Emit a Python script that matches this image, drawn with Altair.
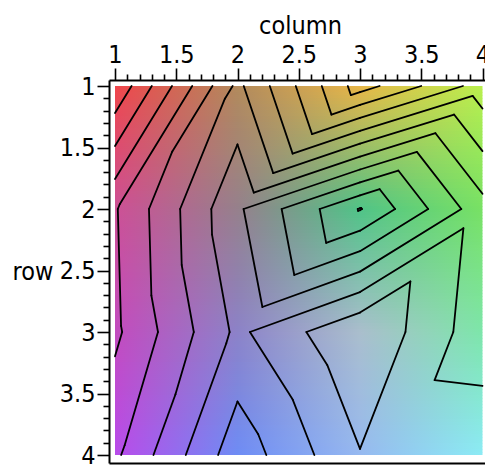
import altair as alt

# ---- data: matrix (row = y, column = x) ----
columns = [1, 2, 3, 4]
rows = [1, 2, 3, 4]
row1 = [6.82, 0.76, 5.47, 2.53]
row2 = [3.09, -0.84, -4.06, -0.36]
row3 = [3.20, -0.22, 1.95, -0.61]
row4 = [2.19, -1.60, 0.95, 0.78]
levels = [-4, -3, -2, -1, 0, 1, 2, 3, 4, 5, 6]
major_ticks = [1, 1.5, 2, 2.5, 3, 3.5, 4]
minor_step = 0.1

Z = [row1, row2, row3, row4]

# ---- style: shading colours at the grid nodes (rows top->bottom) ----
SHADE = [
    [(240, 70, 75), (178, 138, 92), (232, 182, 72), (185, 240, 78)],
    [(205, 80, 150), (150, 128, 140), (80, 195, 135), (120, 225, 100)],
    [(195, 75, 190), (140, 130, 200), (170, 190, 205), (125, 230, 170)],
    [(185, 75, 235), (110, 140, 245), (150, 185, 240), (140, 235, 245)],
]

FONT = "DejaVu Sans Condensed, Liberation Sans Narrow, Liberation Sans, sans-serif"

PX_X = 122.5
PX_Y = 123.0
LEFT, TOP = 109, 80
W = 485 - LEFT
H = 383
X0 = columns[0] - 6 / PX_X
X1 = X0 + W / PX_X
Y0 = rows[0] - 6 / PX_Y
Y1 = Y0 + H / PX_Y


def hexc(c):
    return "#%02x%02x%02x" % tuple(int(round(v)) for v in c)


def lerp(a, b, t):
    return tuple(a[k] + (b[k] - a[k]) * t for k in range(3))


# ---- background: horizontal strips with linear gradients ----
N = 123
ymin, ymax = rows[0], rows[-1]
bg = []
for i in range(N):
    ya = ymin + (ymax - ymin) * i / N
    yb = ymin + (ymax - ymin) * (i + 1) / N
    yc = (ya + yb) / 2
    r = min(int(yc - ymin), len(rows) - 2)
    t = yc - rows[r]
    stops = []
    for j in range(len(columns)):
        c = lerp(SHADE[r][j], SHADE[r + 1][j], t)
        stops.append({"offset": j / (len(columns) - 1), "color": hexc(c)})
    bg.append({
        "x": columns[0], "x2": columns[-1],
        "y": ya, "y2": min(yb + 0.004, ymax),
        "fill": {"gradient": "linear", "x1": 0, "y1": 0, "x2": 1, "y2": 0,
                 "stops": stops},
    })

# ---- contour segments (linear interpolation on triangles) ----
segs = []
for r in range(len(rows) - 1):
    for c in range(len(columns) - 1):
        p00 = (columns[c], rows[r], Z[r][c])
        p10 = (columns[c + 1], rows[r], Z[r][c + 1])
        p01 = (columns[c], rows[r + 1], Z[r + 1][c])
        p11 = (columns[c + 1], rows[r + 1], Z[r + 1][c + 1])
        for tri in ((p00, p10, p01), (p10, p11, p01)):
            for L in levels:
                pts = []
                for a, b in ((0, 1), (1, 2), (2, 0)):
                    xa, ya, va = tri[a]
                    xb, yb, vb = tri[b]
                    if (va - L) * (vb - L) < 0:
                        tt = (L - va) / (vb - va)
                        pts.append((xa + tt * (xb - xa), ya + tt * (yb - ya)))
                if len(pts) == 2:
                    segs.append({"x": pts[0][0], "y": pts[0][1],
                                 "x2": pts[1][0], "y2": pts[1][1], "level": L})

n_minor = int(round((columns[-1] - columns[0]) / minor_step))
minor_ticks = [round(columns[0] + minor_step * i, 1) for i in range(n_minor + 1)]
is_major = "abs(datum.value*2 - round(datum.value*2)) < 0.001"

xscale = alt.Scale(domain=[X0, X1], nice=False, zero=False)
yscale = alt.Scale(domain=[Y0, Y1], nice=False, zero=False, reverse=True)

common_axis = dict(
    values=minor_ticks,
    format=".1~f",
    labelExpr=f"{is_major} ? datum.label : ''",
    labelFont=FONT, labelFontSize=25, labelColor="#000000",
    labelOverlap=False, labelFlush=False, labelBound=False,
    tickColor="#000000", tickWidth=1.6,
    tickSize={"condition": {"test": is_major, "value": 12}, "value": 6},
    domainColor="#000000", domainWidth=2, grid=False,
    titleFont=FONT, titleFontSize=25, titleFontWeight="normal", titleColor="#000000",
)

y_axis = alt.Axis(
    orient="left", title="row", labelPadding=2, titleAngle=0,
    titleX=-97, titleY=191, titleAlign="left", titleBaseline="middle",
    **common_axis)

background = alt.Chart(alt.Data(values=bg)).mark_rect(strokeWidth=0).encode(
    x=alt.X("x:Q", scale=xscale, axis=alt.Axis(
        orient="top", title="column", labelPadding=1,
        titleX=191, titleY=-47, titleAnchor="start", titleAlign="center",
        titleBaseline="alphabetic", **common_axis)),
    x2="x2:Q",
    y=alt.Y("y:Q", scale=yscale, axis=y_axis),
    y2="y2:Q",
    color=alt.Color("fill:N", scale=None),
)

contours = alt.Chart(alt.Data(values=segs)).mark_rule(
    color="#000000", strokeWidth=1.8, strokeCap="round"
).encode(
    x=alt.X("x:Q", scale=xscale, axis=alt.Axis(
        orient="bottom", title=None, labels=False, ticks=False,
        domainColor="#000000", domainWidth=2, grid=False)),
    x2="x2:Q",
    y=alt.Y("y:Q", scale=yscale, axis=y_axis),
    y2="y2:Q",
)

chart = alt.layer(background, contours).resolve_axis(x="independent").properties(
    width=W, height=H,
    autosize=alt.AutoSizeParams(type="none"),
    padding={"left": LEFT, "top": TOP, "right": 0, "bottom": 473 - TOP - H},
    background="#ffffff",
).configure_view(stroke=None)

chart.save("out.html", embed_options={"renderer": "svg", "actions": False})
